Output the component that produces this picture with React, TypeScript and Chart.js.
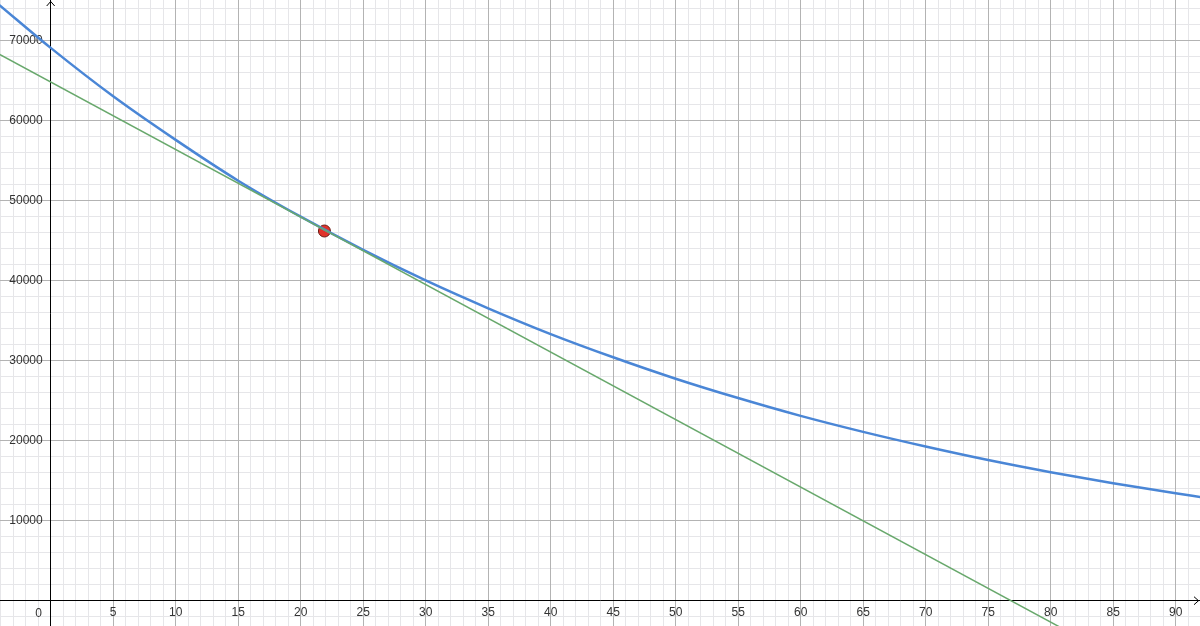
import { useEffect, useRef } from 'react'
import { Chart, registerables } from 'chart.js'

Chart.register(...registerables)

// visible window of the plot, in data units
const X_MIN = -4.056
const X_MAX = 91.95
const Y_MIN = -3162
const Y_MAX = 75087

// blue curve
const curveX = [-4.1, 0, 5, 10, 15, 20, 25, 30, 35, 40, 45, 50, 55, 60, 65, 70, 75, 80, 85, 90, 92]
const curveY = [
  74450, 69100, 63050, 57600, 52500, 48000, 43850, 40030, 36550, 33330, 30430, 27750, 25330,
  23100, 21100, 19270, 17580, 16060, 14680, 13420, 12950,
]

// green tangent line
const tangentX = [-4.1, 81]
const tangentY = [68300, -3520]

// red point of tangency
const pointX = [21.9]
const pointY = [46212]

// major ticks / grid lines
const xTickValues = [0, 5, 10, 15, 20, 25, 30, 35, 40, 45, 50, 55, 60, 65, 70, 75, 80, 85, 90]
const yTickValues = [0, 10000, 20000, 30000, 40000, 50000, 60000, 70000]
const X_MINOR = 1
const Y_MINOR = 2000

const MAJOR = '#b3b3b3'
const MINOR = '#e6e6e9'
const FONT = { family: '"Liberation Sans", Arial, sans-serif', size: 12 }
const TEXT = '#333333'

const zip = (xs: number[], ys: number[]) => xs.map((x, i) => ({ x, y: ys[i] }))

function stepsIn(min: number, max: number, step: number) {
  const out: number[] = []
  for (let v = Math.ceil(min / step) * step; v <= max; v += step) out.push(v)
  return out
}

const setTicks = (values: number[]) => (s: any) => {
  s.ticks = values.map((value) => ({ value }))
}

const noPadding = (s: any) => {
  s.paddingLeft = 0
  s.paddingRight = 0
  s.paddingTop = 0
  s.paddingBottom = 0
}

const axisExtras = {
  id: 'axisExtras',
  afterDraw(chart: any) {
    const { ctx, scales, chartArea } = chart
    const x0 = scales.x.getPixelForValue(0)
    const y0 = scales.y.getPixelForValue(0)
    ctx.save()
    ctx.strokeStyle = '#000'
    ctx.lineWidth = 1
    ctx.beginPath()
    ctx.moveTo(x0 - 4, chartArea.top + 6)
    ctx.lineTo(x0, chartArea.top + 1.5)
    ctx.lineTo(x0 + 4, chartArea.top + 6)
    ctx.moveTo(chartArea.right - 6, y0 - 4)
    ctx.lineTo(chartArea.right - 1.5, y0)
    ctx.lineTo(chartArea.right - 6, y0 + 4)
    ctx.stroke()
    ctx.fillStyle = TEXT
    ctx.font = `${FONT.size}px ${FONT.family}`
    ctx.textAlign = 'center'
    ctx.textBaseline = 'middle'
    ctx.fillText('0', x0 - 12, y0 + 12.5)
    ctx.restore()
  },
}

export default function App() {
  const canvasRef = useRef<HTMLCanvasElement>(null)

  useEffect(() => {
    if (!canvasRef.current) return
    const chart = new Chart(canvasRef.current, {
      type: 'scatter',
      data: {
        datasets: [
          {
            data: zip(tangentX, tangentY),
            showLine: true,
            borderColor: '#68a86c',
            borderWidth: 1.5,
            pointRadius: 0,
            xAxisID: 'x',
            yAxisID: 'y',
          },
          {
            data: zip(curveX, curveY),
            showLine: true,
            cubicInterpolationMode: 'monotone',
            borderColor: '#4a86d6',
            borderWidth: 2.5,
            pointRadius: 0,
            xAxisID: 'x',
            yAxisID: 'y',
          },
          {
            data: zip(pointX, pointY),
            backgroundColor: '#e0332a',
            borderColor: '#6b1c16',
            borderWidth: 1,
            pointRadius: 6,
            xAxisID: 'x',
            yAxisID: 'y',
          },
        ],
      },
      options: {
        responsive: false,
        animation: false,
        events: [],
        layout: { padding: 0, autoPadding: false },
        plugins: { legend: { display: false }, tooltip: { enabled: false } },
        scales: {
          xm: {
            type: 'linear',
            axis: 'x',
            position: { y: 0 },
            min: X_MIN,
            max: X_MAX,
            afterBuildTicks: setTicks(stepsIn(X_MIN, X_MAX, X_MINOR)),
            afterFit: noPadding,
            ticks: { display: false },
            grid: { color: MINOR, drawTicks: false },
            border: { display: false },
          },
          ym: {
            type: 'linear',
            axis: 'y',
            position: { x: 0 },
            min: Y_MIN,
            max: Y_MAX,
            afterBuildTicks: setTicks(stepsIn(Y_MIN, Y_MAX, Y_MINOR)),
            afterFit: noPadding,
            ticks: { display: false },
            grid: { color: MINOR, drawTicks: false },
            border: { display: false },
          },
          x: {
            type: 'linear',
            position: { y: 0 },
            min: X_MIN,
            max: X_MAX,
            afterBuildTicks: setTicks(xTickValues),
            afterFit: noPadding,
            ticks: {
              autoSkip: false,
              maxRotation: 0,
              padding: 5,
              color: TEXT,
              font: FONT,
              callback: (v: any) => (v === 0 ? '' : String(v)),
            },
            grid: { color: MAJOR, drawTicks: false },
            border: { color: '#000', width: 1 },
          },
          y: {
            type: 'linear',
            position: { x: 0 },
            min: Y_MIN,
            max: Y_MAX,
            afterBuildTicks: setTicks(yTickValues),
            afterFit: noPadding,
            ticks: { display: false },
            grid: { color: MAJOR, drawTicks: false },
            border: { color: '#000', width: 1 },
          },
          // labels of the y axis, set a little left of the axis line
          yl: {
            type: 'linear',
            axis: 'y',
            position: { x: -0.64 },
            min: Y_MIN,
            max: Y_MAX,
            afterBuildTicks: setTicks(yTickValues.filter((v) => v > 0)),
            afterFit: noPadding,
            ticks: {
              autoSkip: false,
              color: TEXT,
              font: FONT,
              callback: (v: any) => String(v),
            },
            grid: { display: false },
            border: { display: false },
          },
        },
      } as any,
      plugins: [axisExtras],
    })
    return () => chart.destroy()
  }, [])

  return (
    <div style={{ position: 'fixed', left: 0, top: 0, width: 1200, height: 626, background: '#fff' }}>
      <canvas ref={canvasRef} width={1200} height={626} style={{ display: 'block' }} />
    </div>
  )
}
